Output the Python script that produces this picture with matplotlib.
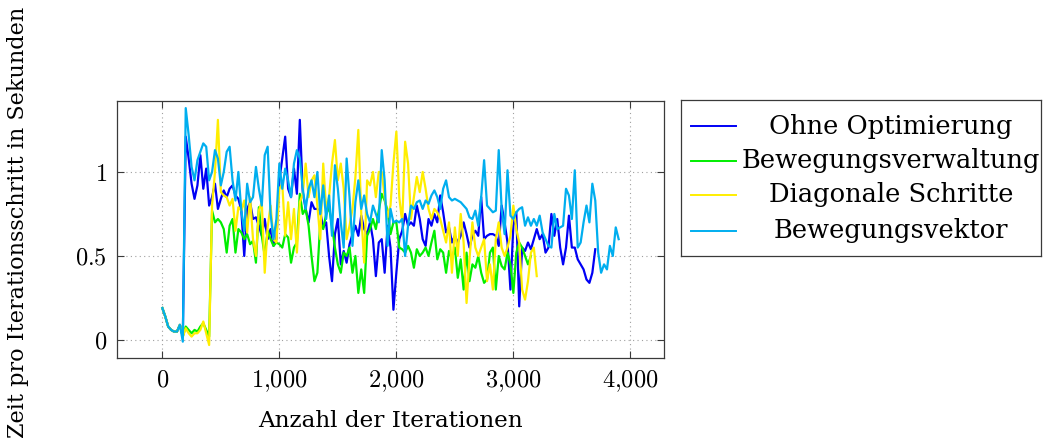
import numpy as np
import matplotlib
matplotlib.use('Agg')
import matplotlib.pyplot as plt

step = 25

ohne_optimierung = [
    0.19, 0.14, 0.08, 0.06, 0.05, 0.05, 0.09, 0.02,
    1.21, 1.08, 0.93, 0.84, 0.92, 1.10, 0.90, 1.02, 0.80, 0.85, 0.93, 0.78, 0.84, 0.89, 0.85, 0.90, 0.92, 0.86,
    0.84, 0.77, 0.50, 0.78, 0.82, 0.72, 0.73, 0.68, 0.62, 0.72, 0.60, 0.66, 0.56, 0.60, 0.95, 1.08, 1.21, 0.90,
    0.85, 1.02, 0.87, 1.31, 0.88, 0.78, 0.70, 0.82, 0.78,
    0.78, 0.76, 0.67, 0.70, 0.50, 0.35, 0.63, 0.72, 0.45, 0.53, 0.46, 0.57, 0.63, 0.68, 0.62, 0.74, 0.66, 0.63,
    0.70, 0.60, 0.38, 0.58, 0.60, 0.40, 0.68, 0.55, 0.18,
    0.40, 0.60, 0.65, 0.75, 0.68, 0.70, 0.68, 0.80, 0.72, 0.60, 0.56, 0.72, 0.68, 0.75, 0.70, 0.86, 0.76, 0.64,
    0.67, 0.58, 0.62, 0.58, 0.62, 0.70, 0.63, 0.55,
    0.62, 0.65, 0.62, 0.85, 0.60, 0.62, 0.63, 0.63, 0.62, 0.56, 0.80, 0.70, 0.58, 0.30, 0.68, 0.76, 0.20, 0.55,
    0.53, 0.58, 0.54, 0.60, 0.66, 0.60, 0.63, 0.52, 0.55,
    0.75, 0.62, 0.72, 0.55, 0.45, 0.55, 0.74, 0.55, 0.55, 0.48, 0.45, 0.42, 0.36, 0.34, 0.40, 0.54,
]

bewegungsverwaltung = [
    0.19, 0.14, 0.08, 0.06, 0.05, 0.05, 0.09, 0.02, 0.08, 0.06, 0.04, 0.06, 0.05, 0.08, 0.10, 0.06, 0.02,
    0.77, 0.70, 0.72, 0.70, 0.66, 0.52, 0.68, 0.72, 0.52,
    0.66, 0.64, 0.60, 0.63, 0.57, 0.59, 0.46, 0.79, 0.62, 0.50, 0.65, 0.60, 0.56, 0.58, 0.57, 0.55, 0.63, 0.61,
    0.46, 0.55, 0.58, 0.87, 0.75, 0.78, 0.68, 0.50, 0.35,
    0.40, 0.70, 0.66, 0.75, 0.79, 0.68, 0.55, 0.45, 0.40, 0.52, 0.50, 0.55, 0.40, 0.50, 0.28, 0.42, 0.28, 0.62,
    0.66, 0.72, 0.66, 0.77, 0.87, 0.83, 0.77, 0.63, 0.70,
    0.70, 0.55, 0.54, 0.52, 0.56, 0.52, 0.43, 0.54, 0.50, 0.52, 0.55, 0.50, 0.58, 0.65, 0.48, 0.54, 0.52, 0.40,
    0.53, 0.48, 0.55, 0.37, 0.48, 0.30, 0.52, 0.35,
    0.45, 0.43, 0.50, 0.40, 0.34, 0.36, 0.52, 0.55, 0.30, 0.50, 0.44, 0.42, 0.52, 0.45, 0.28, 0.52, 0.58, 0.55,
    0.50, 0.45, 0.50,
]

diagonale_schritte = [
    0.19, 0.14, 0.08, 0.06, 0.05, 0.05, 0.09, 0.02, 0.07, 0.04, 0.02, 0.04, 0.04, 0.06, 0.11, 0.04, -0.03,
    0.80, 1.00, 1.31, 0.88, 0.86, 0.85, 0.80, 0.84, 0.65,
    0.79, 0.77, 0.83, 0.64, 0.85, 0.60, 0.50, 0.77, 0.82, 0.40, 0.67, 0.80, 0.60, 0.58, 0.90, 0.93, 0.62, 0.82,
    0.60, 0.78, 0.52, 0.82, 0.87, 1.05, 0.85, 0.95, 0.98,
    0.80, 0.60, 1.05, 0.78, 0.85, 1.05, 1.19, 0.95, 1.05, 0.90, 0.60, 0.68, 0.78, 0.97, 1.25, 0.75, 0.46, 0.95,
    0.92, 1.00, 0.85, 1.00, 1.00, 0.85, 0.73, 0.80, 1.05,
    1.24, 0.85, 0.70, 1.18, 1.05, 0.72, 0.85, 0.97, 0.88, 1.00, 0.90, 0.78, 0.72, 0.78, 0.76, 0.72, 0.65, 0.58,
    0.70, 0.40, 0.67, 0.50, 0.75, 0.58, 0.22, 0.48,
    0.70, 0.55, 0.50, 0.55, 0.60, 0.35, 0.45, 0.30, 0.60, 0.70, 0.55, 0.50, 0.55, 0.62, 0.80, 0.66, 0.58, 0.30,
    0.24, 0.35, 0.52, 0.55, 0.38,
]

bewegungsvektor = [
    0.19, 0.14, 0.08, 0.06, 0.05, 0.05, 0.09, -0.01,
    1.38, 1.22, 1.03, 0.95, 1.07, 1.12, 1.17, 1.15, 0.95, 1.00, 1.13, 1.08, 0.92, 1.00, 1.12, 1.15, 0.95, 0.83,
    1.00, 0.77, 0.65, 0.93, 0.82, 0.85, 1.03, 0.90, 0.80, 1.10, 1.15, 0.75, 0.60, 0.72, 1.05, 0.90, 1.02, 0.95,
    0.85, 1.05, 1.13, 1.08, 0.90, 0.78, 0.90, 0.95, 0.85,
    1.00, 0.75, 0.92, 0.72, 0.86, 0.62, 1.04, 0.90, 0.70, 0.55, 1.08, 0.85, 0.56, 0.82, 0.95, 0.78, 0.86, 0.75,
    0.70, 0.80, 0.75, 0.70, 1.13, 0.95, 0.56, 0.78, 0.70,
    0.71, 0.70, 0.72, 0.50, 0.68, 0.80, 0.78, 0.82, 0.83, 0.78, 0.83, 0.81, 0.86, 0.89, 0.85, 0.78, 0.90, 0.95,
    0.85, 0.83, 0.84, 0.83, 0.82, 0.80, 0.78, 0.73,
    0.72, 0.77, 0.68, 0.85, 1.07, 0.80, 0.78, 0.76, 0.77, 1.13, 0.78, 0.63, 1.01, 0.74, 0.72, 0.76, 0.78, 0.79,
    0.68, 0.73, 0.68, 0.72, 0.68, 0.74, 0.64, 0.60, 0.56,
    0.55, 0.75, 0.66, 0.67, 0.68, 0.90, 0.86, 0.72, 1.01, 0.55, 0.58, 0.70, 0.80, 0.70, 0.93, 0.83, 0.52, 0.40,
    0.45, 0.42, 0.56, 0.50, 0.67, 0.60,
]

series_names = ['Ohne Optimierung', 'Bewegungsverwaltung', 'Diagonale Schritte', 'Bewegungsvektor']
series_data = [ohne_optimierung, bewegungsverwaltung, diagonale_schritte, bewegungsvektor]
series_colors = ['#0000F5', '#00EE00', '#FFEE00', '#00AEEF']

x_ticks = [0, 1000, 2000, 3000, 4000]
x_tick_labels = ['$0$', '$1{,}000$', '$2{,}000$', '$3{,}000$', '$4{,}000$']
y_ticks = [0, 0.5, 1]
y_tick_labels = ['$0$', '$0.5$', '$1$']

# --- Style ---
plt.rcParams['mathtext.fontset'] = 'cm'
plt.rcParams['font.family'] = ['DejaVu Serif']
frame_col = '#3a3a3a'

W, H = 1049, 448
fig = plt.figure(figsize=(W / 100, H / 100), dpi=100)

# axes box in pixel coordinates of the reference
ax_l, ax_r, ax_t, ax_b = 116.7, 664.3, 100.7, 358.3
ax = fig.add_axes([ax_l / W, 1 - ax_b / H, (ax_r - ax_l) / W, (ax_b - ax_t) / H])

for name, vals, col in zip(series_names, series_data, series_colors):
    iters = np.arange(len(vals)) * step
    ax.plot(iters, vals, color=col, linewidth=1.6, solid_joinstyle='round')

ax.set_xlim(-390, 4290)
ax.set_ylim(-0.109, 1.424)
ax.set_xticks(x_ticks, x_tick_labels)
ax.set_yticks(y_ticks, y_tick_labels)
ax.tick_params(direction='in', length=5, width=0.8, color=frame_col,
               top=True, right=True, labelsize=17.5, pad=7)
ax.grid(True, linestyle=(0, (1, 3)), color='#a0a0a0', linewidth=0.8)
for sp in ax.spines.values():
    sp.set_color(frame_col)
    sp.set_linewidth(0.9)

ax.set_xlabel('Anzahl der Iterationen', fontsize=16.7, labelpad=12)
fig.text(18 / W, 0.503, 'Zeit pro Iterationsschritt in Sekunden', rotation=90,
         fontsize=16.1, ha='center', va='center')

# legend box (centered entries like pgfplots)
lg_l, lg_r, lg_t, lg_b = 680.7, 1041, 100, 255.7
lax = fig.add_axes([lg_l / W, 1 - lg_b / H, (lg_r - lg_l) / W, (lg_b - lg_t) / H])
lax.set_xlim(0, 1)
lax.set_ylim(1, 0)
lax.set_xticks([])
lax.set_yticks([])
for sp in lax.spines.values():
    sp.set_color(frame_col)
    sp.set_linewidth(0.9)
row_y = [0.17, 0.39, 0.61, 0.84]
for yy, name, col in zip(row_y, series_names, series_colors):
    lax.plot([0.028, 0.153], [yy, yy], color=col, linewidth=1.4)
    lax.text(0.583, yy, name, ha='center', va='center', fontsize=18.5)

fig.savefig('out.png', dpi=100)
